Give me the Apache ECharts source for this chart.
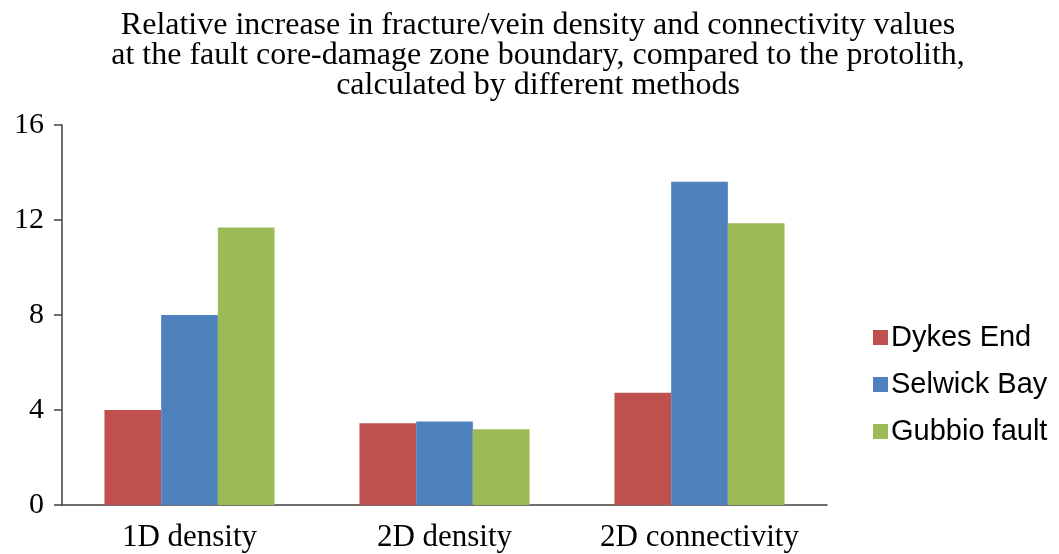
<!DOCTYPE html>
<html>
<head>
<meta charset="utf-8">
<script src="https://cdn.jsdelivr.net/npm/echarts@6/dist/echarts.min.js"></script>
<style>html,body{margin:0;padding:0;background:#fff;}#c{width:1059px;height:554px;}</style>
</head>
<body>
<div id="c"></div>
<script>
const categories = ['1D density', '2D density', '2D connectivity'];
const seriesNames = ['Dykes End', 'Selwick Bay', 'Gubbio fault'];
const dykesEnd = [4.0, 3.44, 4.73];
const selwickBay = [8.0, 3.52, 13.61];
const gubbioFault = [11.68, 3.19, 11.86];
const yTicks = [0, 4, 8, 12, 16];
const colors = ['#C0504D', '#4F81BD', '#9BBB59'];
const titleText = 'Relative increase in fracture/vein density and connectivity values\nat the fault core-damage zone boundary, compared to the protolith,\ncalculated by different methods';

const chart = echarts.init(document.getElementById('c'));
const serif = '"Liberation Serif", "Times New Roman", serif';
const values = [dykesEnd, selwickBay, gubbioFault];
chart.setOption({
  animation: false,
  backgroundColor: '#fff',
  title: {
    text: titleText,
    left: 533,
    top: 6,
    textAlign: 'center',
    textStyle: { fontFamily: serif, fontSize: 32, fontWeight: 'normal', color: '#000', lineHeight: 30 }
  },
  legend: {
    orient: 'vertical',
    left: 868,
    top: 318,
    itemWidth: 15,
    itemHeight: 15,
    itemGap: 18,
    icon: 'rect',
    textStyle: { fontFamily: '"Liberation Sans", Arial, sans-serif', fontSize: 29, color: '#000', lineHeight: 29, padding: [0, 0, 0, -2] },
    data: seriesNames
  },
  grid: { left: 62, right: 232, top: 125, bottom: 49 },
  xAxis: {
    type: 'category',
    data: categories,
    axisLine: { lineStyle: { color: '#404040', width: 1.5 } },
    axisTick: { show: false },
    axisLabel: { interval: 0, hideOverlap: false, fontFamily: serif, fontSize: 31, color: '#000', margin: 17 }
  },
  yAxis: {
    type: 'value',
    min: yTicks[0],
    max: yTicks[yTicks.length - 1],
    interval: 4,
    splitLine: { show: false },
    axisLine: { show: true, lineStyle: { color: '#404040', width: 1.5 } },
    axisTick: { show: true, length: 8, lineStyle: { color: '#404040', width: 1.5 } },
    axisLabel: { fontFamily: serif, fontSize: 30, color: '#000', margin: 18 }
  },
  series: seriesNames.map((n, i) => ({
    name: n,
    type: 'bar',
    data: values[i],
    barGap: '0%',
    barCategoryGap: '33.3%',
    itemStyle: { color: colors[i] }
  }))
});
</script>
</body>
</html>
